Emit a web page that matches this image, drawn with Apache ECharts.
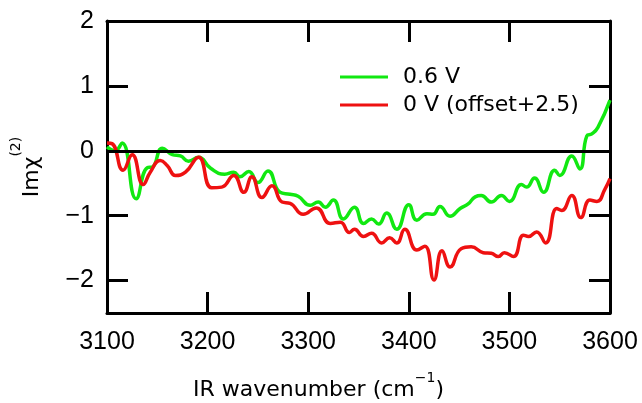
<!DOCTYPE html>
<html>
<head>
<meta charset="utf-8">
<script src="https://cdn.jsdelivr.net/npm/echarts@6/dist/echarts.min.js"></script>
<style>
  html, body { margin: 0; padding: 0; background: #fff; }
  #chart { width: 642px; height: 403px; }
</style>
</head>
<body>
<div id="chart"></div>
<script>
// 0.6 V 曲线
var greenX = [3100, 3108, 3115, 3129, 3140, 3145, 3155, 3165, 3173, 3181, 3191, 3203, 3217, 3226, 3232, 3241, 3250, 3260, 3272, 3282, 3290, 3302, 3310, 3317, 3325, 3335, 3346, 3355, 3363, 3370, 3378, 3388, 3400, 3408, 3418, 3424, 3431, 3441, 3451, 3459, 3466, 3472, 3482, 3492, 3500, 3512, 3517, 3525, 3534, 3545, 3550, 3562, 3570, 3577, 3582, 3588, 3600];
var greenY = [0.06, 0.0, 0.12, -0.74, -0.26, -0.25, 0.04, -0.06, -0.08, -0.16, -0.10, -0.27, -0.36, -0.33, -0.40, -0.32, -0.49, -0.31, -0.64, -0.67, -0.70, -0.84, -0.79, -0.87, -0.76, -1.05, -0.87, -1.12, -1.05, -1.13, -0.96, -1.21, -0.83, -1.07, -0.97, -0.98, -0.86, -1.01, -0.89, -0.82, -0.71, -0.69, -0.79, -0.69, -0.78, -0.52, -0.56, -0.42, -0.64, -0.30, -0.38, -0.08, -0.28, 0.23, 0.26, 0.36, 0.78];

// 0 V 曲线 (offset+2.5)
var redX = [3100, 3105, 3116, 3125, 3136, 3143, 3153, 3160, 3168, 3178, 3191, 3204, 3214, 3226, 3236, 3244, 3254, 3264, 3274, 3282, 3295, 3308, 3322, 3332, 3341, 3346, 3355, 3363, 3373, 3381, 3388, 3396, 3408, 3416, 3425, 3433, 3441, 3452, 3462, 3474, 3482, 3489, 3495, 3504, 3514, 3519, 3527, 3536, 3547, 3552, 3562, 3571, 3580, 3587, 3595, 3600];
var redY = [0.12, 0.11, -0.30, -0.06, -0.52, -0.33, -0.15, -0.23, -0.38, -0.33, -0.10, -0.57, -0.56, -0.38, -0.64, -0.40, -0.72, -0.54, -0.79, -0.81, -0.98, -0.88, -1.12, -1.10, -1.26, -1.21, -1.32, -1.27, -1.42, -1.34, -1.42, -1.21, -1.53, -1.47, -1.99, -1.54, -1.79, -1.51, -1.48, -1.57, -1.58, -1.63, -1.57, -1.63, -1.30, -1.32, -1.25, -1.42, -0.89, -0.92, -0.69, -1.03, -0.76, -0.78, -0.59, -0.43];

var seriesNames = ['0.6 V', '0 V (offset+2.5)'];
var xTicks = [3100, 3200, 3300, 3400, 3500, 3600];
var yTicks = [-2, -1, 0, 1, 2];

function pairs(xs, ys) {
  return xs.map(function (x, i) { return [x, ys[i]]; });
}

var myChart = echarts.init(document.getElementById('chart'));
var font = 'DejaVu Sans';
var numFont = 'Liberation Sans';

var tick = { show: true, inside: true, length: 21, lineStyle: { color: '#000', width: 3 } };
var line = { show: true, onZero: false, lineStyle: { color: '#000', width: 3 } };

var option = {
  animation: false,
  backgroundColor: '#fff',
  textStyle: { fontFamily: font },
  grid: { left: 107, right: 32, top: 21, bottom: 90, outerBoundsMode: 'none', containLabel: false },
  legend: {
    left: 335, top: 61, orient: 'vertical',
    icon: 'rect', itemWidth: 48, itemHeight: 3, itemGap: 6,
    textStyle: { fontSize: 22, color: '#000', fontFamily: font, padding: [0, 0, 0, 10] },
    data: seriesNames
  },
  xAxis: [{
    type: 'value', min: 3100, max: 3600, interval: 100,
    axisLine: line, axisTick: tick, splitLine: { show: false },
    axisLabel: { fontSize: 25, color: '#000', fontFamily: numFont, margin: 17, customValues: xTicks,
      formatter: function (v) { return String(v); } },
    name: '{n|IR wavenumber (cm}{s|−1}{n|)}',
    nameLocation: 'middle', nameGap: 58,
    nameTextStyle: {
      padding: [0, 80, 0, 0],
      rich: {
        n: { fontSize: 22, color: '#000', fontFamily: font, lineHeight: 30, verticalAlign: 'bottom' },
        s: { fontSize: 14, color: '#000', fontFamily: font, lineHeight: 30, verticalAlign: 'top' }
      }
    }
  }, {
    type: 'value', position: 'top', min: 3100, max: 3600, interval: 100,
    axisLine: line, axisTick: tick, axisLabel: { show: false }, splitLine: { show: false }
  }],
  yAxis: [{
    type: 'value', min: -2.5, max: 2,
    axisLine: line,
    axisTick: Object.assign({ customValues: yTicks }, tick),
    splitLine: { show: false },
    axisLabel: { fontSize: 25, color: '#000', fontFamily: numFont, margin: 13, customValues: yTicks,
      formatter: function (v) { return v < 0 ? '−' + Math.abs(v) : String(v); } },
    name: '{n|Imχ}{s|(2)}',
    nameLocation: 'middle', nameGap: 64, nameRotate: 90,
    nameTextStyle: {
      rich: {
        n: { fontSize: 22, color: '#000', fontFamily: font, lineHeight: 34, verticalAlign: 'bottom' },
        s: { fontSize: 14, color: '#000', fontFamily: font, lineHeight: 34, verticalAlign: 'top' }
      }
    }
  }, {
    type: 'value', position: 'right', min: -2.5, max: 2,
    axisLine: line,
    axisTick: Object.assign({ customValues: yTicks }, tick),
    axisLabel: { show: false }, splitLine: { show: false }
  }],
  series: [{
    name: seriesNames[0], type: 'line', smooth: 0.5, symbol: 'none',
    data: pairs(greenX, greenY),
    lineStyle: { color: '#11e811', width: 3.5 }, itemStyle: { color: '#11e811' },
    markLine: {
      silent: true, symbol: ['none', 'none'], label: { show: false },
      lineStyle: { color: '#000', width: 3, type: 'solid' },
      data: [{ yAxis: 0 }]
    },
    z: 3
  }, {
    name: seriesNames[1], type: 'line', smooth: 0.5, symbol: 'none',
    data: pairs(redX, redY),
    lineStyle: { color: '#ee1111', width: 3.5 }, itemStyle: { color: '#ee1111' },
    z: 4
  }]
};

myChart.setOption(option);
</script>
</body>
</html>
